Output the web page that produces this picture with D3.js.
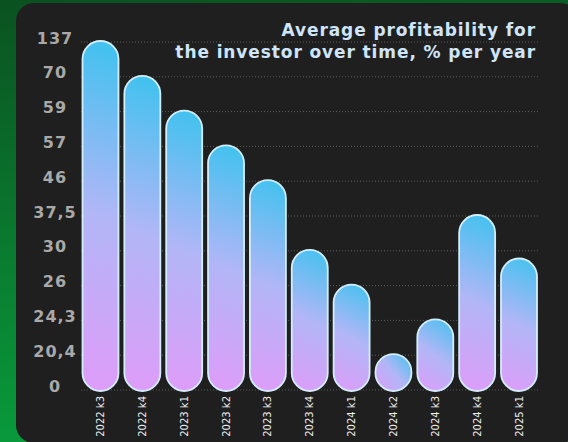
<!DOCTYPE html>
<html>
<head>
<meta charset="utf-8">
<script src="https://cdn.jsdelivr.net/npm/d3@7"></script>
<style>
  html, body { margin:0; padding:0; background:#0b6a2b; }
  svg { display:block; }
</style>
</head>
<body>
<div id="chart"></div>
<script>
var categories = ['2022 k3','2022 k4','2023 k1','2023 k2','2023 k3','2023 k4','2024 k1','2024 k2','2024 k3','2024 k4','2025 k1'];
var values = [137, 70, 59, 57, 46, 30, 26, 20.4, 24.3, 37.5, 29];
// axis ticks are not evenly valued, they are evenly spaced
var tickValues = [0, 20.4, 24.3, 26, 30, 37.5, 46, 57, 59, 70, 137];
var tickLabels = ['0', '20,4', '24,3', '26', '30', '37,5', '46', '57', '59', '70', '137'];
var titleLines = ['Average profitability for', 'the investor over time, % per year'];

var W = 568, H = 442;
var yTop = 42, yBottom = 390;

var svg = d3.select('#chart').append('svg')
	.attr('width', W)
	.attr('height', H);

var defs = svg.append('defs');

var bg = defs.append('linearGradient')
	.attr('id', 'bg')
	.attr('x1', 0).attr('y1', 0).attr('x2', 0.15).attr('y2', 1);
bg.append('stop').attr('offset', 0).attr('stop-color', '#0a5220');
bg.append('stop').attr('offset', 1).attr('stop-color', '#099b3c');

svg.append('rect')
	.attr('width', W).attr('height', H)
	.attr('fill', 'url(#bg)');

// dark card
svg.append('rect')
	.attr('x', 16).attr('y', 3)
	.attr('width', 562).attr('height', 440)
	.attr('rx', 18)
	.attr('fill', '#1f1f1f');

var y = d3.scaleLinear()
	.domain(tickValues)
	.range(tickValues.map(function(d, i){
		return yBottom - i * (yBottom - yTop) / (tickValues.length - 1);
	}));

var x = d3.scaleBand()
	.domain(categories)
	.range([82.5, 537])
	.paddingInner(0.14)
	.paddingOuter(0);

// dotted grid
svg.append('g')
	.selectAll('line')
	.data(tickValues)
	.enter().append('line')
	.attr('x1', 81).attr('x2', 540)
	.attr('y1', function(d){ return y(d); })
	.attr('y2', function(d){ return y(d); })
	.attr('stroke', '#5a5a5a')
	.attr('stroke-width', 1)
	.attr('stroke-dasharray', '1,2');

// y labels (centered in the left column)
svg.append('g')
	.selectAll('text')
	.data(tickValues)
	.enter().append('text')
	.attr('x', 55)
	.attr('y', function(d){ return y(d) + 1.5; })
	.attr('text-anchor', 'middle')
	.attr('font-family', 'DejaVu Sans')
	.attr('font-weight', 'bold')
	.attr('font-size', 16)
	.attr('letter-spacing', 1)
	.attr('fill', '#a9a9a9')
	.text(function(d, i){ return tickLabels[i]; });

// bars, each with its own gradient so the tilt follows the bar
var bw = x.bandwidth();
categories.forEach(function(c, i){
	var x0 = x(c);
	var y0 = y(values[i]) - 1;
	var h = y(0) + 1 - y0;
	var k = bw / 2 + 0.1 * h;
	var g = defs.append('linearGradient')
		.attr('id', 'bar' + i)
		.attr('gradientUnits', 'userSpaceOnUse')
		.attr('x1', x0 + bw / 2 + k).attr('y1', y0)
		.attr('x2', x0 + bw / 2 - k).attr('y2', y0 + h);
	g.append('stop').attr('offset', 0).attr('stop-color', '#36c3ee');
	g.append('stop').attr('offset', 0.5).attr('stop-color', '#b2b6f7');
	g.append('stop').attr('offset', 1).attr('stop-color', '#e29af9');
});

svg.append('g')
	.selectAll('rect')
	.data(values)
	.enter().append('rect')
	.attr('x', function(d, i){ return x(categories[i]); })
	.attr('y', function(d){ return y(d) - 1; })
	.attr('width', bw)
	.attr('height', function(d){ return y(0) + 2 - y(d); })
	.attr('rx', bw / 2)
	.attr('fill', function(d, i){ return 'url(#bar' + i + ')'; })
	.attr('stroke', '#d2eefb')
	.attr('stroke-width', 1.8);

// x labels
svg.append('g')
	.selectAll('text')
	.data(categories)
	.enter().append('text')
	.attr('transform', function(d){
		return 'translate(' + (x(d) + bw / 2) + ',396) rotate(-90)';
	})
	.attr('dy', '0.35em')
	.attr('text-anchor', 'end')
	.attr('font-family', 'DejaVu Sans')
	.attr('font-size', 10)
	.attr('fill', '#efefef')
	.text(function(d){ return d; });

// title
svg.append('g')
	.selectAll('text')
	.data(titleLines)
	.enter().append('text')
	.attr('x', 536)
	.attr('y', function(d, i){ return 36 + i * 22; })
	.attr('text-anchor', 'end')
	.attr('font-family', 'DejaVu Sans')
	.attr('font-weight', 'bold')
	.attr('font-size', 17)
	.attr('letter-spacing', 0.9)
	.attr('fill', '#cfe5fa')
	.text(function(d){ return d; });
</script>
</body>
</html>
